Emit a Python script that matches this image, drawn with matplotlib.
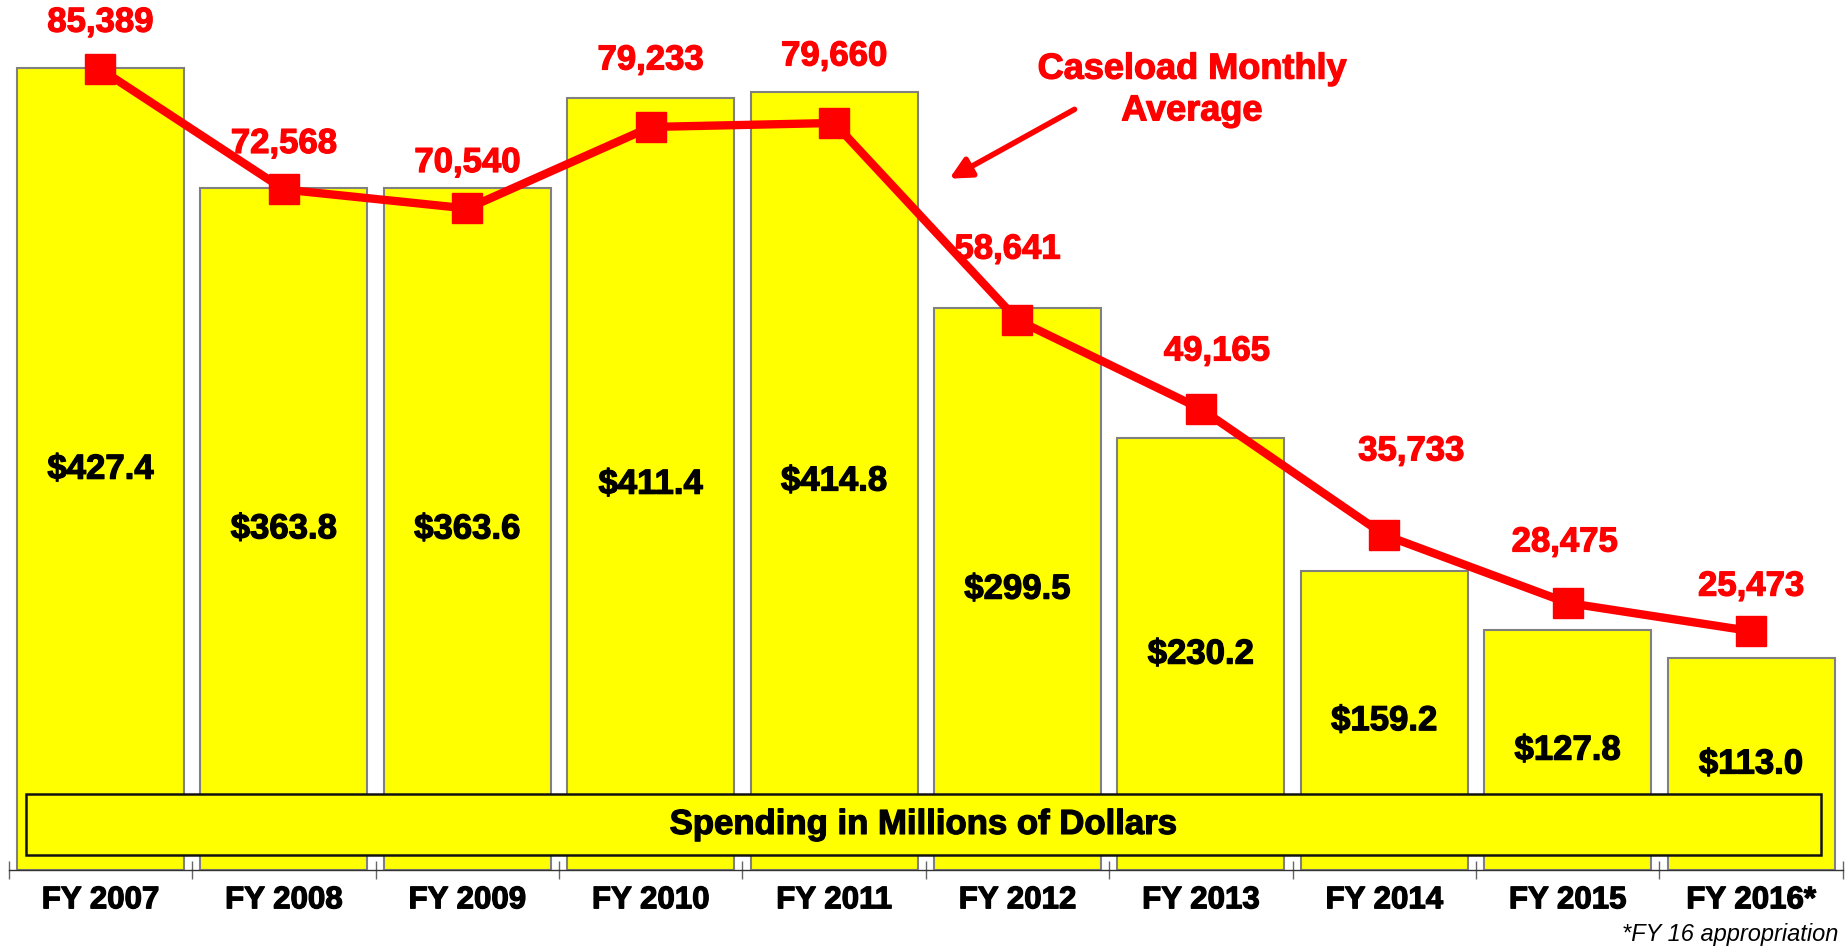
import matplotlib.pyplot as plt
import matplotlib.patheffects as pe
from matplotlib.patches import Rectangle

plt.rcParams['font.family'] = ['Liberation Sans', 'DejaVu Sans']

years = ['FY 2007', 'FY 2008', 'FY 2009', 'FY 2010', 'FY 2011',
         'FY 2012', 'FY 2013', 'FY 2014', 'FY 2015', 'FY 2016*']
spending = [427.4, 363.8, 363.6, 411.4, 414.8, 299.5, 230.2, 159.2, 127.8, 113.0]
caseload = [85389, 72568, 70540, 79233, 79660, 58641, 49165, 35733, 28475, 25473]

# hand placed label offsets (pixels) for the caseload numbers
lab_dx = [0, 0, 0, 0, 0, -10, 16, 27, -3, 0]
lab_dy = [47, 46, 46, 67, 67, 71, 58, 84, 61, 45]


def heavy(color):
    # slightly thicker glyphs, closer to the original's heavy bold
    return [pe.withStroke(linewidth=0.9, foreground=color)]


fig = plt.figure(figsize=(18.45, 9.48), dpi=100)
ax = fig.add_axes([8.8 / 1845, 78 / 948, 1834 / 1845, 844 / 948])
x = range(len(years))

ax.bar(x, spending, width=0.91, color='#FFFF00', edgecolor='#808080', linewidth=1.5)
for i, v in enumerate(spending):
    ax.text(i, v / 2, '$%.1f' % v, ha='center', va='center',
            fontsize=25, fontweight='bold', color='black', path_effects=heavy('black'))

ax.set_xlim(-0.5, len(years) - 0.5)
ax.set_ylim(0, 450)
ax.set_yticks([])
for s in ['top', 'left', 'right']:
    ax.spines[s].set_visible(False)
ax.spines['bottom'].set_color('#333333')
ax.spines['bottom'].set_linewidth(1)
ax.set_xticks(list(x))
ax.set_xticklabels(years, fontsize=22.5, fontweight='bold')
for lbl in ax.get_xticklabels():
    lbl.set_path_effects(heavy('black'))
ax.tick_params(axis='x', which='major', length=0, pad=11)
ax.set_xticks([i - 0.5 for i in range(len(years) + 1)], minor=True)
ax.tick_params(axis='x', which='minor', length=13, direction='inout', color='#666666', width=1)

ax2 = ax.twinx()
ax2.set_ylim(0, 90000)
ax2.axis('off')
ax2.plot(x, caseload, color='#FF0000', linewidth=6, marker='s', markersize=22,
         markerfacecolor='#FF0000', markeredgecolor='#FF0000')
for i, c in enumerate(caseload):
    ax2.annotate('{:,}'.format(c), xy=(i, c), xytext=(lab_dx[i], lab_dy[i]),
                 textcoords='offset pixels', ha='center', va='center',
                 fontsize=25, fontweight='bold', color='#FF0000',
                 path_effects=heavy('#FF0000'))

# spending box across the bottom
ax2.add_patch(Rectangle((0.0093, 0.0178), 0.9787, 0.0722, transform=ax2.transAxes,
                        facecolor='#FFFF00', edgecolor='#111111', linewidth=1.8, zorder=5))
ax2.text(0.4987, 0.054, 'Spending in Millions of Dollars', transform=ax2.transAxes,
         ha='center', va='center', fontsize=25, fontweight='bold', color='black', zorder=6,
         path_effects=heavy('black'))

# caseload note with arrow
fig.text(1192 / 1845, 1 - 90 / 948, 'Caseload Monthly\nAverage', ha='center', va='center',
         fontsize=26, fontweight='bold', color='#FF0000', linespacing=1.25,
         path_effects=heavy('#FF0000'))
ax2.annotate('', xy=(947, 948 - 180), xycoords='figure pixels',
             xytext=(1077, 948 - 108), textcoords='figure pixels',
             arrowprops=dict(arrowstyle='-|>', color='#FF0000', lw=4,
                             mutation_scale=32))

fig.text(1838 / 1845, 1 - 935 / 948, '*FY 16 appropriation', ha='right', va='center',
         fontsize=17, style='italic', color='black')

fig.savefig('out.png', dpi=100)
